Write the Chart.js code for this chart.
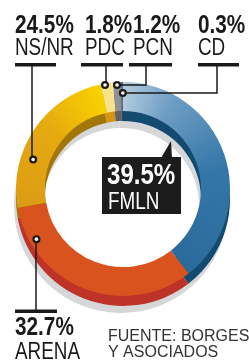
<!DOCTYPE html>
<html>
<head>
<meta charset="utf-8">
<script src="https://cdn.jsdelivr.net/npm/chart.js@4.4.0/dist/chart.umd.min.js"></script>
<style>
html, body { margin: 0; padding: 0; background: #fff; }
#wrap { position: relative; width: 249px; height: 361px; overflow: hidden; }
#wrap canvas { position: absolute; left: 0; top: 0; }
</style>
</head>
<body>
<div id="wrap">
  <canvas id="shadow" width="249" height="361"></canvas>
  <canvas id="wall" width="249" height="361"></canvas>
  <canvas id="face" width="249" height="361"></canvas>
</div>
<script>
// data
const parties = ['FMLN', 'ARENA', 'NS/NR', 'PDC', 'PCN', 'CD'];
const shares = [39.5, 32.7, 24.5, 1.8, 1.2, 0.3];
const shareLabels = ['39.5%', '32.7%', '24.5%', '1.8%', '1.2%', '0.3%'];
const faceColors = ['#2d70a1', '#d9531e', '#e4a612', '#f7e38a', '#8e9196', '#5d6f82'];
const wallColors = ['#134a70', '#bd3328', '#a3760a', '#d6930f', '#5e6267', '#3a4552'];
const sourceLines = ['FUENTE: BORGES', 'Y ASOCIADOS'];

const SANS = "'Liberation Sans', Arial, sans-serif";

// callouts: label position + where the dot sits on its slice (fraction along arc, fraction across ring)
const callouts = [
    { i: 2, x: 15, bar: [15, 56], vx: 32, frac: 0.32, rad: 0.57, top: true },
    { i: 3, x: 85, bar: [81, 123], vx: 106, frac: 0.32, rad: 0.95, top: true },
    { i: 4, x: 133, bar: [129, 172], vx: 146, frac: 0.49, rad: 0.9, top: true },
    { i: 5, x: 198, bar: [198, 239], vx: 217, frac: 0.9, rad: 0.62, top: true },
    { i: 1, x: 15, bar: [15, 57], vx: 36, frac: 0.83, rad: 0.76, top: false }
];

function faceColor(c) {
    const chart = c.chart, a = chart.chartArea;
    if (!a) return faceColors[c.dataIndex];
    const cx = (a.left + a.right) / 2, cy = (a.top + a.bottom) / 2;
    let g;
    if (c.dataIndex === 0) {
        g = chart.ctx.createConicGradient(-Math.PI / 2, cx, cy);
        g.addColorStop(0, '#b3cbdf');
        g.addColorStop(0.08, '#6f9ec4');
        g.addColorStop(0.22, '#3376a7');
        g.addColorStop(0.4, '#2a6b9b');
        g.addColorStop(1, '#2a6b9b');
    } else if (c.dataIndex === 2) {
        g = chart.ctx.createConicGradient(-Math.PI / 2, cx, cy);
        g.addColorStop(0, '#dc9c14');
        g.addColorStop(0.72, '#dc9c14');
        g.addColorStop(0.86, '#e6aa10');
        g.addColorStop(0.967, '#f8d300');
        g.addColorStop(1, '#f8d300');
    } else {
        return faceColors[c.dataIndex];
    }
    return g;
}

function ring(id, colors, padding) {
    return new Chart(document.getElementById(id), {
        type: 'doughnut',
        data: {
            labels: parties,
            datasets: [{ data: shares, backgroundColor: colors, borderWidth: 0, hoverOffset: 0 }]
        },
        options: {
            responsive: false,
            animation: false,
            devicePixelRatio: 1,
            cutout: '72.9%',
            layout: { padding: padding },
            plugins: { legend: { display: false }, tooltip: { enabled: false } },
            events: []
        },
        plugins: id === 'face' ? [labelsPlugin] : []
    });
}

function dot(ctx, x, y) {
    ctx.beginPath();
    ctx.arc(x, y, 4, 0, Math.PI * 2);
    ctx.fillStyle = '#1a1a1a';
    ctx.fill();
    ctx.beginPath();
    ctx.arc(x, y, 1.8, 0, Math.PI * 2);
    ctx.fillStyle = '#fff';
    ctx.fill();
}

// condensed text: squeeze a normal face horizontally
function narrowText(ctx, text, x, y, font, sx) {
    ctx.save();
    ctx.font = font;
    ctx.translate(x, y);
    ctx.scale(sx, 1);
    ctx.fillText(text, 0, 0);
    ctx.restore();
}

const labelsPlugin = {
    id: 'callouts',
    afterDraw(chart) {
        const ctx = chart.ctx;
        const arcs = chart.getDatasetMeta(0).data;
        ctx.save();
        ctx.textBaseline = 'alphabetic';
        ctx.textAlign = 'left';

        callouts.forEach(c => {
            const arc = arcs[c.i].getProps(['x', 'y', 'startAngle', 'endAngle', 'innerRadius', 'outerRadius']);
            const ang = arc.startAngle + c.frac * (arc.endAngle - arc.startAngle);
            const r = arc.innerRadius + c.rad * (arc.outerRadius - arc.innerRadius);
            const dx = arc.x + r * Math.cos(ang), dy = arc.y + r * Math.sin(ang);
            const barY = c.top ? 64.5 : 311;

            ctx.fillStyle = '#1a1a1a';
            ctx.fillRect(c.bar[0], barY - 1.5, c.bar[1] - c.bar[0], 3.5);

            ctx.strokeStyle = '#1a1a1a';
            ctx.lineWidth = 1.5;
            ctx.beginPath();
            ctx.moveTo(c.vx, barY);
            ctx.lineTo(c.vx, dy);
            ctx.lineTo(dx, dy);
            ctx.stroke();
            dot(ctx, dx, dy);

            const vBase = c.top ? 33 : 335;
            const nBase = c.top ? 55 : 359;
            ctx.fillStyle = '#1a1a1a';
            narrowText(ctx, shareLabels[c.i], c.x, vBase, 'bold 25px ' + SANS, 0.83);
            narrowText(ctx, parties[c.i], c.x, nBase, '23px ' + SANS, 0.82);
        });

        // FMLN box with pointer
        ctx.fillStyle = '#1c1c1c';
        ctx.fillRect(102, 157, 79, 57);
        ctx.beginPath();
        ctx.moveTo(161, 158);
        ctx.lineTo(171, 141);
        ctx.lineTo(172, 158);
        ctx.closePath();
        ctx.fill();
        ctx.fillStyle = '#fff';
        narrowText(ctx, shareLabels[0], 107, 184, 'bold 29px ' + SANS, 0.83);
        narrowText(ctx, parties[0], 108, 209, '23px ' + SANS, 0.82);

        // source
        ctx.fillStyle = '#333';
        ctx.font = '16px ' + SANS;
        ctx.fillText(sourceLines[0], 108, 341);
        ctx.fillText(sourceLines[1], 108, 357);
        ctx.restore();
    }
};

// outer ring: 214px wide, centre (123, 189); lower layers shifted down for the 3D edge
ring('shadow', shares.map(() => '#d6d7d9'), { left: 14, right: 21, top: 99, bottom: 48 });
ring('wall', wallColors, { left: 16, right: 19, top: 92, bottom: 55 });
ring('face', faceColor, { left: 16, right: 19, top: 82, bottom: 65 });
</script>
</body>
</html>
